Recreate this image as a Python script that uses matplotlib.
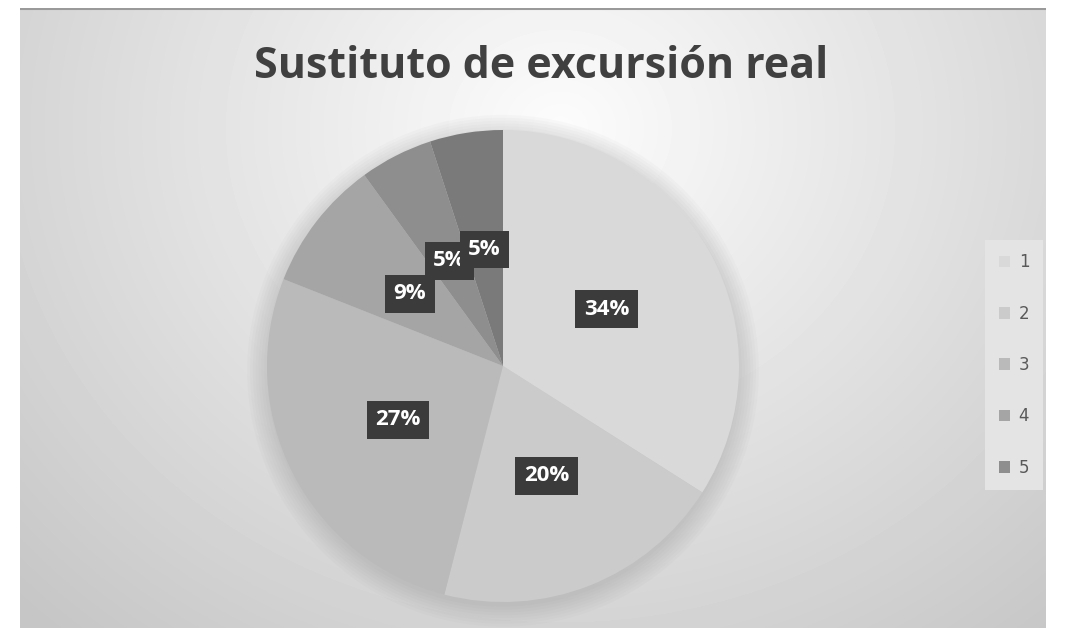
import numpy as np
import matplotlib.pyplot as plt
from matplotlib.patches import Circle

# Datos del gráfico
categorias = ['1', '2', '3', '4', '5', '6']
porcentajes = [34, 20, 27, 9, 5, 5]
colores = ['#d9d9d9', '#cbcbcb', '#bababa', '#a5a5a5', '#8e8e8e', '#7a7a7a']
titulo = 'Sustituto de excursión real'

W, H = 1066, 628
fig = plt.figure(figsize=(W / 100, H / 100), dpi=100)
fig.patch.set_facecolor('white')

# Fondo con degradado radial
ax_fondo = fig.add_axes([20 / W, 0, 1026 / W, 620 / H])
ys, xs = np.mgrid[0:620, 0:1026]
d = np.sqrt(((xs - 540) / 700.0) ** 2 + ((ys - 120) / 620.0) ** 2)
gris = np.clip(252 - 50 * d, 198, 252) / 255.0
ax_fondo.imshow(gris, cmap='gray', vmin=0, vmax=1, aspect='auto',
                extent=[0, 1026, 620, 0], interpolation='bilinear')
ax_fondo.axhline(0.5, color='#9a9a9a', lw=1.5)
ax_fondo.set_xlim(0, 1026)
ax_fondo.set_ylim(620, 0)
ax_fondo.axis('off')

fig.text(541 / W, 1 - 66 / H, titulo, ha='center', va='center',
         fontsize=31, fontweight='bold', color='#404040', family='Open Sans')

# Tarta
r = 236
ax = fig.add_axes([(503 - r * 1.05) / W, (H - 366 - r * 1.05) / H,
                   2.1 * r / W, 2.1 * r / H])

# sombra suave
for i in range(8):
    ax.add_patch(Circle((0.0, -0.02), 1.0 + 0.012 * i, color='#808080',
                        alpha=0.035, lw=0, zorder=0, clip_on=False))

cuñas, textos, autotextos = ax.pie(
    porcentajes, colors=colores, startangle=90, counterclock=False,
    radius=1.0, autopct='%1.0f%%', pctdistance=0.5,
    wedgeprops=dict(lw=0), textprops=dict(color='white', fontsize=16,
                                          fontweight='bold', family='Open Sans'))
for t in autotextos:
    t.set_bbox(dict(boxstyle='square,pad=0.38', fc='#3b3b3b', ec='none'))
ax.set_xlim(-1.05, 1.05)
ax.set_ylim(-1.05, 1.05)
ax.set_aspect('equal')
ax.axis('off')

fig.legend(cuñas[:5], categorias[:5], loc='center', ncol=1,
           bbox_to_anchor=(1014 / W, 1 - 365 / H), frameon=True,
           facecolor='#e4e4e4', edgecolor='none', framealpha=1,
           fontsize=12, labelcolor='#595959', handlelength=0.7,
           handleheight=0.7, handletextpad=0.5, labelspacing=2.0,
           borderpad=0.8, fancybox=False)

plt.savefig('out.png', dpi=100)
